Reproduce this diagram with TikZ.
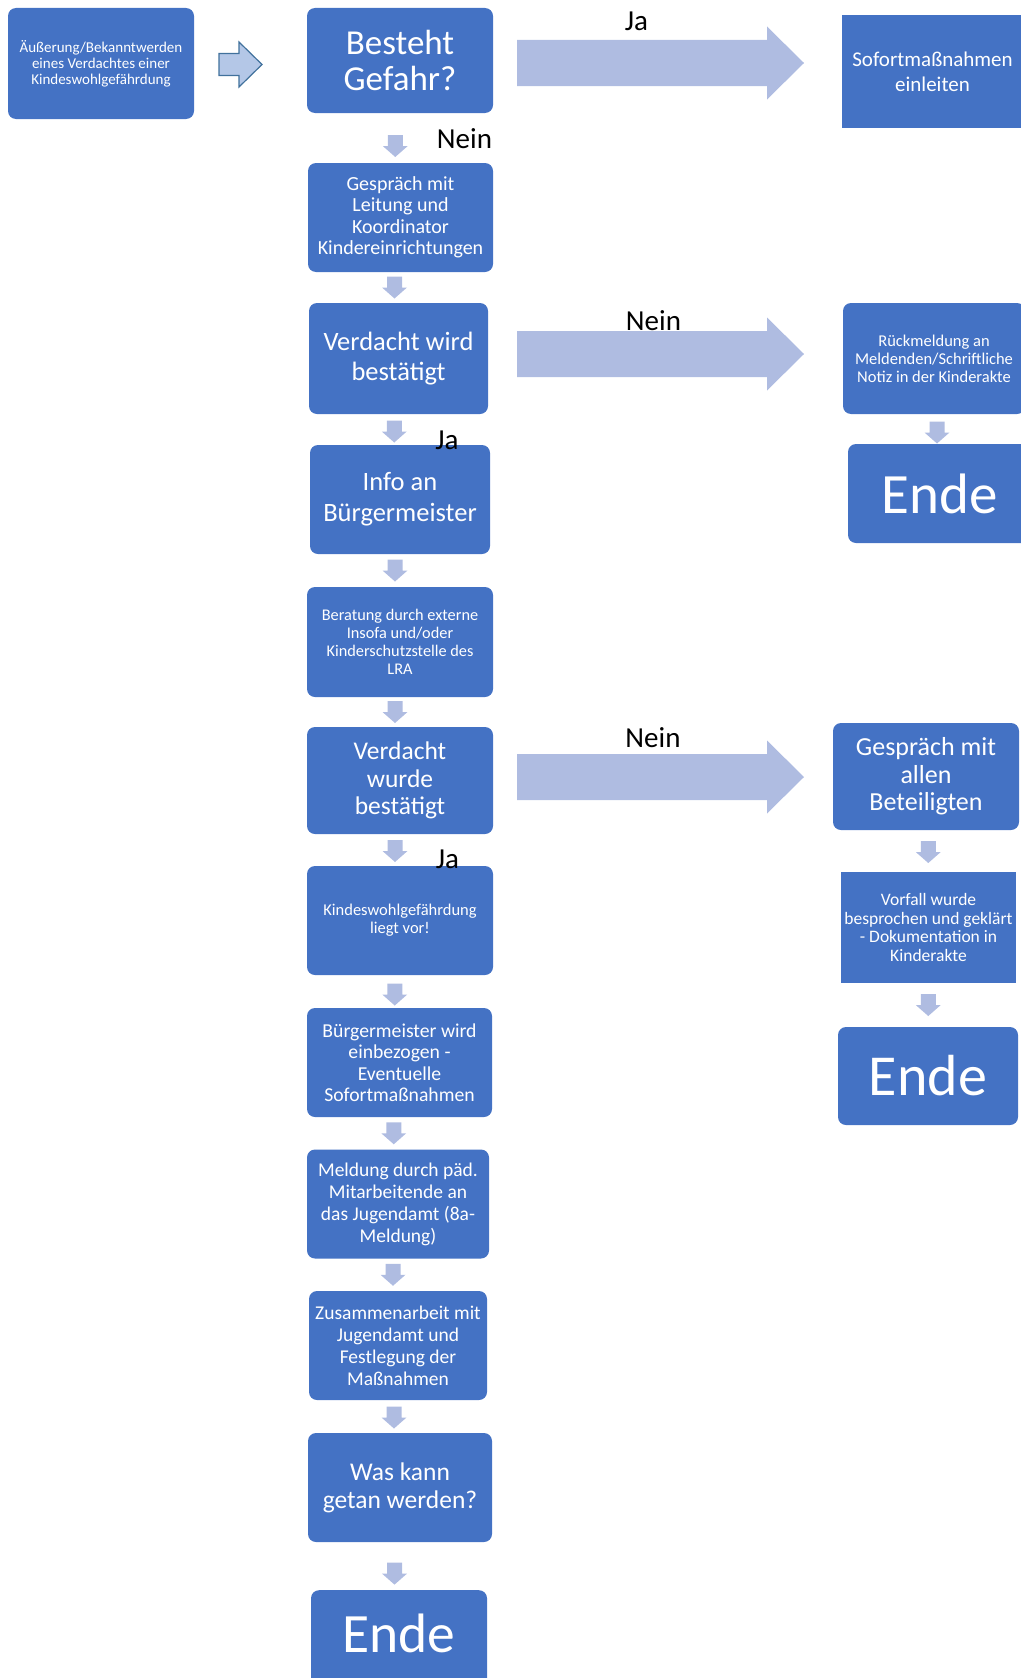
\documentclass[tikz,border=0pt]{standalone}
\usepackage{fontspec}
\setmainfont{Carlito}
\usetikzlibrary{calc}

\definecolor{boxblue}{HTML}{4472C4}
\definecolor{arrowblue}{HTML}{AFBCE1}
\definecolor{edgeblue}{HTML}{41719C}
\definecolor{hollowfill}{HTML}{B4C7E7}

\tikzset{
  box/.style={fill=boxblue, text=white, rounded corners=8pt, align=center, inner sep=2pt},
  flatbox/.style={box, rounded corners=0pt},
  answer/.style={text=black, font=\fontsize{29}{30}\selectfont, inner sep=0pt},
  downarr/.pic={\fill[arrowblue] (-7.5,-11) -- (7.5,-11) -- (7.5,0) -- (12.5,0) -- (0,11) -- (-12.5,0) -- (-7.5,0) -- cycle;},
  bigarr/.pic={\fill[arrowblue] (-287,-23) -- (-37,-23) -- (-37,-36.5) -- (0,0) -- (-37,36.5) -- (-37,23) -- (-287,23) -- cycle;},
  hollowarr/.pic={\draw[fill=hollowfill, draw=edgeblue, line width=1.2pt] (-21.5,-11) -- (-1.5,-11) -- (-1.5,-22.5) -- (21.5,0) -- (-1.5,22.5) -- (-1.5,11) -- (-21.5,11) -- cycle;}
}

\begin{document}
\begin{tikzpicture}[x=1pt,y=-1pt]

\useasboundingbox (0,0) rectangle (1020,1678);

% main column
\node[box, minimum width=186pt, minimum height=111pt, font=\fontsize{15}{16}\selectfont] (melde) at (101,63.5) {Äußerung/Bekanntwerden\\eines Verdachtes einer\\Kindeswohlgefährdung};
\node[box, minimum width=186pt, minimum height=105pt, font=\fontsize{35}{36}\selectfont] (gefahr) at (400,60.5) {Besteht\\Gefahr?};
\node[box, minimum width=185pt, minimum height=109pt, font=\fontsize{20}{21.5}\selectfont] (leitung) at (400.5,217.5) {Gespräch mit\\Leitung und\\Koordinator\\Kindereinrichtungen};
\node[box, minimum width=179pt, minimum height=111pt, font=\fontsize{26.5}{30}\selectfont] (verdacht) at (398.5,358.5) {Verdacht wird\\bestätigt};
\node[box, minimum width=180pt, minimum height=109pt, font=\fontsize{26.5}{31}\selectfont] (info) at (400,499.5) {Info an\\Bürgermeister};
\node[box, minimum width=186pt, minimum height=110pt, font=\fontsize{16.3}{18}\selectfont] (beratung) at (400,642) {Beratung durch externe\\Insofa und/oder\\Kinderschutzstelle des\\LRA};
\node[box, minimum width=186pt, minimum height=107pt, font=\fontsize{25.5}{27.5}\selectfont] (wurde) at (400,780.5) {Verdacht\\wurde\\bestätigt};
\node[box, minimum width=186pt, minimum height=109pt, font=\fontsize{16.5}{18}\selectfont] (kindeswohl) at (400,920.5) {Kindeswohlgefährdung\\liegt vor!};
\node[box, minimum width=185pt, minimum height=109pt, font=\fontsize{19.7}{21.5}\selectfont] (einbezogen) at (399.5,1062.5) {Bürgermeister wird\\einbezogen -\\Eventuelle\\Sofortmaßnahmen};
\node[box, minimum width=182pt, minimum height=109pt, font=\fontsize{19.5}{22}\selectfont] (meldung) at (398,1204) {Meldung durch päd.\\Mitarbeitende an\\das Jugendamt (8a-\\Meldung)};
\node[box, minimum width=178pt, minimum height=109pt, font=\fontsize{19.5}{22}\selectfont] (zusammen) at (398,1345.5) {Zusammenarbeit mit\\Jugendamt und\\Festlegung der\\Maßnahmen};
\node[box, minimum width=184pt, minimum height=109pt, font=\fontsize{25.5}{28}\selectfont] (wasKann) at (400,1487.5) {Was kann\\getan werden?};
\node[box, anchor=north, minimum width=176pt, minimum height=124pt, text height=30pt, text depth=30pt, font=\fontsize{55.5}{56}\selectfont] (endeC) at (399,1590) {Ende};

% right column
\node[flatbox, minimum width=181pt, minimum height=113pt, font=\fontsize{21}{25}\selectfont] (sofort) at (932.5,71.5) {Sofortmaßnahmen\\einleiten};
\node[box, minimum width=182pt, minimum height=111pt, font=\fontsize{16.5}{18}\selectfont] (rueck) at (934,358.5) {Rückmeldung an\\Meldenden/Schriftliche\\Notiz in der Kinderakte};
\node[box, minimum width=184pt, minimum height=99pt, font=\fontsize{57}{58}\selectfont] (endeA) at (940,493.5) {Ende};
\node[box, minimum width=186pt, minimum height=107pt, font=\fontsize{26}{27.5}\selectfont] (allen) at (926,776.5) {Gespräch mit\\allen\\Beteiligten};
\node[flatbox, minimum width=175pt, minimum height=111pt, font=\fontsize{17.5}{18.7}\selectfont] (vorfall) at (928.5,927.5) {Vorfall wurde\\besprochen und geklärt\\- Dokumentation in\\Kinderakte};
\node[box, minimum width=180pt, minimum height=98pt, font=\fontsize{58}{59}\selectfont] (endeB) at (928,1076) {Ende};

% arrows
\pic at ($(melde.east)!.5!(gefahr.west)+(-10,2.5)$) {hollowarr};

\coordinate (tipx) at (804,0);
\pic at ($(tipx |- gefahr.east)+(0,2.5)$) {bigarr};
\pic at ($(tipx |- rueck.west)+(0,-4.5)$) {bigarr};
\pic at ($(tipx |- allen.west)+(0,0.5)$) {bigarr};

\pic at ($(gefahr.south)!.5!(leitung.north)+(-5,8)$) {downarr};
\pic at ($(leitung.south)!.5!(verdacht.north)+(-5,0)$) {downarr};
\pic at ($(verdacht.south)!.5!(info.north)+(-5,2)$) {downarr};
\pic at ($(info.south)!.5!(beratung.north)+(-5,0)$) {downarr};
\pic at ($(beratung.south)!.5!(wurde.north)+(-5,0)$) {downarr};
\pic at ($(wurde.south)!.5!(kindeswohl.north)+(-5,1)$) {downarr};
\pic at ($(kindeswohl.south)!.5!(einbezogen.north)+(-5,3)$) {downarr};
\pic at ($(einbezogen.south)!.5!(meldung.north)+(-5,0)$) {downarr};
\pic at ($(meldung.south)!.5!(zusammen.north)+(-5,0)$) {downarr};
\pic at ($(zusammen.south)!.5!(wasKann.north)+(-5,1)$) {downarr};
\pic at ($(wasKann.south)!.5!(endeC.north)+(-5,7.5)$) {downarr};

\pic at ($(rueck.south)!.5!(endeA.north)+(0,3.5)$) {downarr};
\pic at ($(allen.south)!.5!(vorfall.north)+(1,1)$) {downarr};
\pic at ($(vorfall.south)!.5!(endeB.north)+(0,0)$) {downarr};

% answers
\node[answer] (ja1) at (636.5,21.5) {Ja};
\node[answer] (nein1) at (464.5,139) {Nein};
\node[answer] (nein2) at (653.5,320.5) {Nein};
\node[answer] (ja2) at (447,440) {Ja};
\node[answer] (nein3) at (653,738) {Nein};
\node[answer] (ja3) at (447.5,859) {Ja};

\end{tikzpicture}
\end{document}
